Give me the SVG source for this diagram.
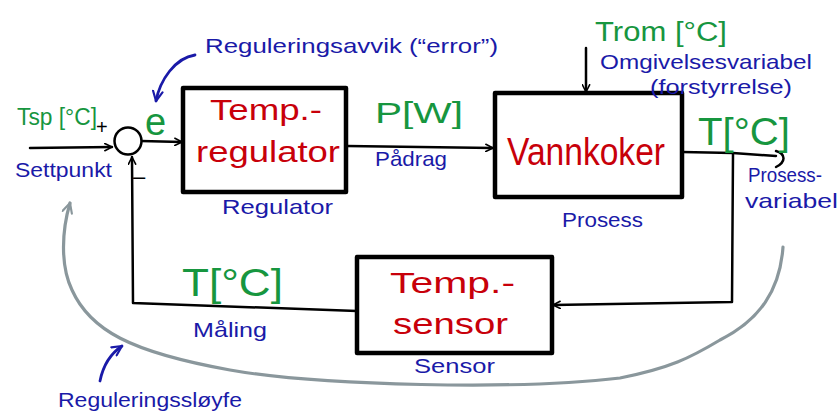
<svg xmlns="http://www.w3.org/2000/svg" width="840" height="418" viewBox="0 0 840 418">
<style>
.box{fill:#fff;stroke:#000;stroke-width:4.5;stroke-linejoin:round}
.ln{fill:none;stroke:#000;stroke-width:2.5;stroke-linecap:round;stroke-linejoin:round}
.gray{fill:none;stroke:#8a979c;stroke-width:3.2;stroke-linecap:round}
.barrow{fill:none;stroke:#1a1aa8;stroke-width:2.8;stroke-linecap:round;stroke-linejoin:round}
.red{fill:#c8000a;font-family:"Liberation Sans",Arial,sans-serif}
.grn{fill:#17963f;font-family:"Liberation Sans",Arial,sans-serif}
.blu{fill:#1a1aa8;font-family:"Liberation Sans",Arial,sans-serif;font-size:21px}
</style>
<defs>
<marker id="ah" viewBox="0 0 10 10" refX="9" refY="5" markerWidth="9" markerHeight="9" markerUnits="userSpaceOnUse" orient="auto">
<path d="M1,1 L9,5 L1,9" fill="none" stroke="#000" stroke-width="1.8" stroke-linecap="round" stroke-linejoin="round"/>
</marker>
<marker id="ahg" viewBox="0 0 10 10" refX="9" refY="5" markerWidth="12" markerHeight="12" markerUnits="userSpaceOnUse" orient="auto">
<path d="M1,1 L9,5 L1,9" fill="none" stroke="#8a979c" stroke-width="1.8" stroke-linecap="round" stroke-linejoin="round"/>
</marker>
<marker id="ahb" viewBox="0 0 10 10" refX="9" refY="5" markerWidth="12" markerHeight="12" markerUnits="userSpaceOnUse" orient="auto">
<path d="M1,1 L9,5 L1,9" fill="none" stroke="#1a1aa8" stroke-width="1.8" stroke-linecap="round" stroke-linejoin="round"/>
</marker>
</defs>

<g id="connectors">
  <path class="ln" d="M30,148 L112,147" marker-end="url(#ah)"/>
  <path class="ln" d="M141,141 L182,142" marker-end="url(#ah)"/>
  <path class="ln" d="M347,146 L493,148" marker-end="url(#ah)"/>
  <path class="ln" d="M586,48 L586,92" marker-end="url(#ah)"/>
  <path class="ln" d="M682,152 L733,153 L776,156"/>
  <path class="ln" d="M776,151 C786,154 786,162 776,167"/>
  <path class="ln" d="M733,154 L732,302 L553,305" marker-end="url(#ah)"/>
  <path class="ln" d="M357,311 L133,303 L132,157" marker-end="url(#ah)"/>
  <path class="gray" d="M783,247 C780,290 760,320 720,340 C690,358 670,368 620,378 C520,390 320,386 230,370 C130,352 90,330 72,290 C60,265 62,230 70,203" marker-end="url(#ahg)"/>
  <path class="barrow" d="M195,55 C175,58 160,80 156,101" marker-end="url(#ahb)"/>
  <path class="barrow" d="M100,381 C103,366 110,354 122,346" marker-end="url(#ahb)"/>
</g>

<g id="sum">
  <circle cx="128" cy="141" r="13.5" fill="#fff" stroke="#000" stroke-width="2.5"/>
  <text x="96" y="134" font-family="Liberation Sans,Arial,sans-serif" font-size="20" fill="#000">+</text>
  <text x="133" y="184" font-family="Liberation Sans,Arial,sans-serif" font-size="22" fill="#000">–</text>
</g>

<g id="regulator">
  <rect class="box" x="183" y="88" width="163" height="104"/>
  <text class="red" x="210" y="120" font-size="30" textLength="112" lengthAdjust="spacingAndGlyphs">Temp.-</text>
  <text class="red" x="196" y="162" font-size="30" textLength="144" lengthAdjust="spacingAndGlyphs">regulator</text>
</g>

<g id="vannkoker">
  <rect class="box" x="495" y="93" width="187" height="104"/>
  <text class="red" x="507" y="165" font-size="38" textLength="158" lengthAdjust="spacingAndGlyphs">Vannkoker</text>
</g>

<g id="sensor">
  <rect class="box" x="357" y="257" width="195" height="96"/>
  <text class="red" x="390" y="293" font-size="30" textLength="125" lengthAdjust="spacingAndGlyphs">Temp.-</text>
  <text class="red" x="393" y="334" font-size="30" textLength="115" lengthAdjust="spacingAndGlyphs">sensor</text>
</g>

<g id="labels">
  <text class="grn" x="17" y="125" font-size="23" textLength="80" lengthAdjust="spacingAndGlyphs">Tsp [°C]</text>
  <text class="blu" x="15" y="177" textLength="97" lengthAdjust="spacingAndGlyphs">Settpunkt</text>
  <text class="grn" x="145" y="135" font-size="38">e</text>
  <text class="blu" x="205" y="53" textLength="293" lengthAdjust="spacingAndGlyphs">Reguleringsavvik (“error”)</text>
  <text class="blu" x="222" y="214" textLength="111" lengthAdjust="spacingAndGlyphs">Regulator</text>
  <text class="grn" x="375" y="123" font-size="30" textLength="88" lengthAdjust="spacingAndGlyphs">P[W]</text>
  <text class="blu" x="375" y="166" textLength="72" lengthAdjust="spacingAndGlyphs">Pådrag</text>
  <text class="blu" x="562" y="227" textLength="81" lengthAdjust="spacingAndGlyphs">Prosess</text>
  <text class="grn" x="595" y="41" font-size="27" textLength="132" lengthAdjust="spacingAndGlyphs">Trom [°C]</text>
  <text class="blu" x="600" y="69" textLength="212" lengthAdjust="spacingAndGlyphs">Omgivelsesvariabel</text>
  <text class="blu" x="650" y="94" textLength="142" lengthAdjust="spacingAndGlyphs">(forstyrrelse)</text>
  <text class="grn" x="698" y="145" font-size="38" textLength="92" lengthAdjust="spacingAndGlyphs">T[°C]</text>
  <text class="blu" x="748" y="182" textLength="74" lengthAdjust="spacingAndGlyphs">Prosess-</text>
  <text class="blu" x="745" y="208" textLength="93" lengthAdjust="spacingAndGlyphs">variabel</text>
  <text class="grn" x="182" y="296" font-size="38" textLength="101" lengthAdjust="spacingAndGlyphs">T[°C]</text>
  <text class="blu" x="193" y="337" textLength="74" lengthAdjust="spacingAndGlyphs">Måling</text>
  <text class="blu" x="414" y="373" textLength="81" lengthAdjust="spacingAndGlyphs">Sensor</text>
  <text class="blu" x="58" y="407" textLength="184" lengthAdjust="spacingAndGlyphs">Reguleringssløyfe</text>
</g>
</svg>
